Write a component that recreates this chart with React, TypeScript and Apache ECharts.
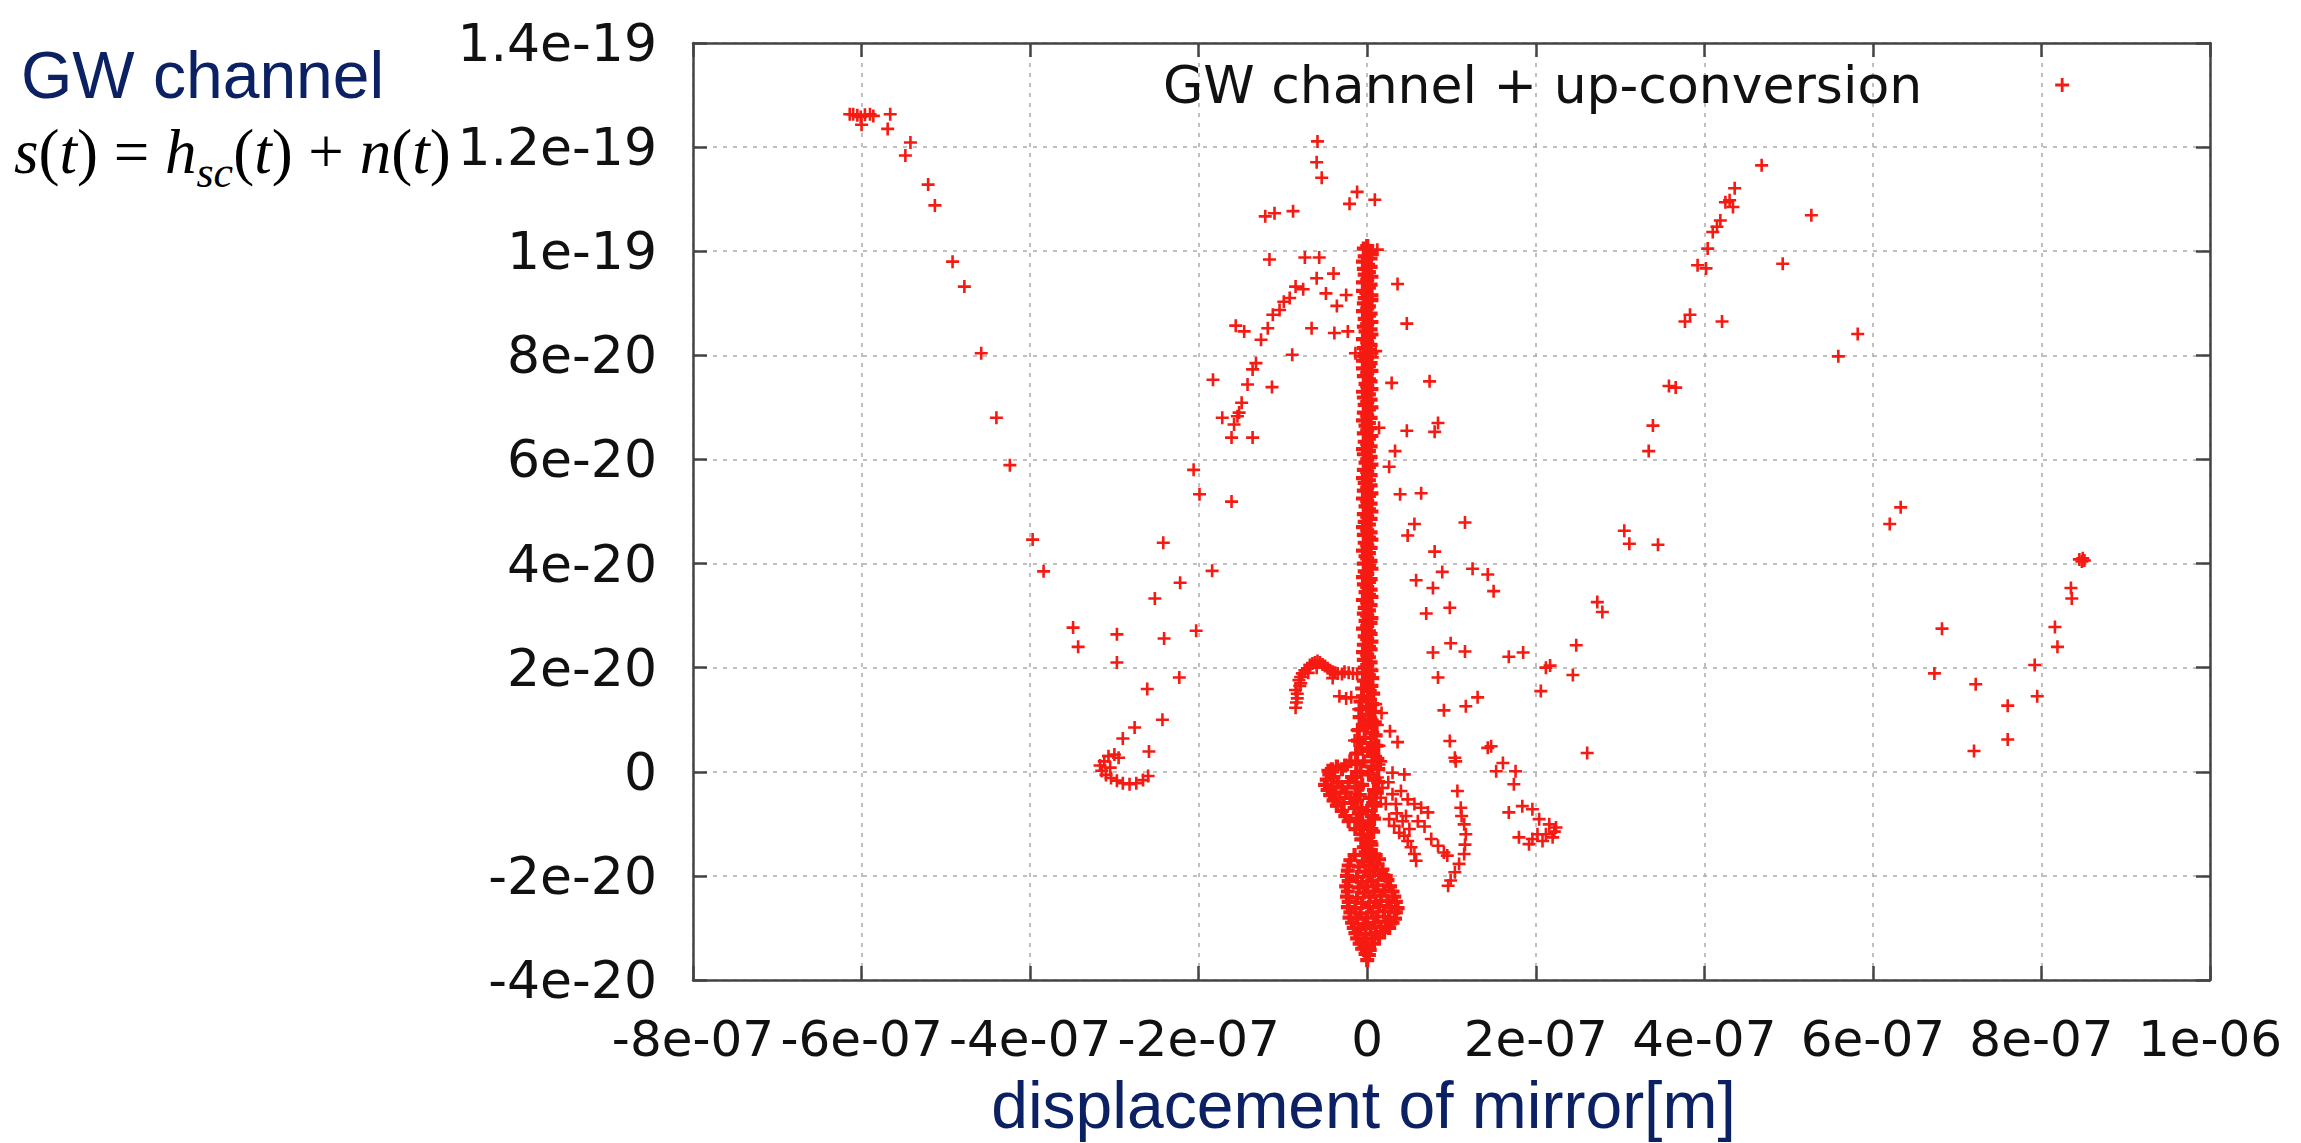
import React, { useEffect, useRef } from 'react';
import * as echarts from 'echarts';

// Values are stored in display units: x in 1e-7 m, y in 1e-20 (signal amplitude).
const X_MIN = -8;
const X_MAX = 10;
const X_STEP = 2;
const Y_MIN = -4;
const Y_MAX = 14;
const Y_STEP = 2;

const xTickLabels = ['-8e-07', '-6e-07', '-4e-07', '-2e-07', '0', '2e-07', '4e-07', '6e-07', '8e-07', '1e-06'];
const yTickLabels = ['-4e-20', '-2e-20', '0', '2e-20', '4e-20', '6e-20', '8e-20', '1e-19', '1.2e-19', '1.4e-19'];

const seriesName = 'GW channel + up-conversion';
const titleText = 'GW channel';
const xAxisTitle = 'displacement of mirror[m]';

type P = [number, number];

const upperLeftArm: P[] = [
  [-6.14, 12.63], [-6.10, 12.63], [-6.05, 12.61], [-6.01, 12.58], [-5.96, 12.62], [-5.90, 12.63], [-5.86, 12.60],
  [-5.66, 12.63], [-6.00, 12.43], [-5.69, 12.35], [-5.42, 12.09], [-5.48, 11.84], [-5.21, 11.28], [-5.13, 10.88],
  [-4.92, 9.80], [-4.78, 9.32], [-4.58, 8.04], [-4.40, 6.80], [-4.24, 5.89], [-3.97, 4.46], [-3.84, 3.85],
];

const leftMid: P[] = [
  [-3.49, 2.77], [-3.43, 2.40], [-2.97, 2.64], [-2.97, 2.10], [-2.42, 4.40], [-2.52, 3.33], [-2.22, 3.63],
  [-2.41, 2.56], [-2.03, 2.71], [-2.23, 1.81], [-2.61, 1.59], [-2.43, 1.00], [-2.76, 0.85], [-2.90, 0.64],
  [-2.59, 0.39], [-2.06, 5.80], [-1.99, 5.33], [-1.61, 5.19], [-1.84, 3.86],
];

const leftLoop: P[] = [
  [-3.00, 0.33], [-3.07, 0.30], [-3.12, 0.20], [-3.17, 0.12], [-3.15, 0.02], [-3.10, -0.06], [-3.04, -0.12],
  [-2.97, -0.17], [-2.90, -0.22], [-2.82, -0.24], [-2.74, -0.22], [-2.66, -0.16], [-2.60, -0.08], [-3.05, 0.08],
  [-2.95, 0.27],
];

const upperCenter: P[] = [
  [-1.72, 6.80], [-1.61, 6.42], [-1.36, 6.42], [-1.49, 7.09], [-1.54, 6.83], [-1.58, 6.67], [-1.42, 7.44],
  [-1.13, 7.39], [-1.83, 7.53], [-1.52, 6.90], [-1.36, 7.73], [-1.32, 7.85], [-1.56, 8.57], [-1.46, 8.46],
  [-1.26, 8.30], [-1.18, 8.52], [-1.12, 8.78], [-1.04, 8.87], [-0.99, 9.03], [-0.92, 9.10], [-0.85, 9.32],
  [-0.76, 9.27], [-0.60, 9.48], [-0.49, 9.19], [-0.40, 9.57], [-0.36, 8.95], [-0.25, 9.16], [-1.16, 9.84],
  [-0.74, 9.88], [-0.57, 9.88], [-1.21, 10.67], [-1.10, 10.73], [-0.88, 10.77], [-0.59, 12.11], [-0.60, 11.71],
  [-0.54, 11.41], [-0.12, 11.14], [-0.21, 10.91], [0.09, 10.99], [-0.66, 8.52], [-0.39, 8.43], [-0.23, 8.46],
  [-0.89, 8.01], [0.12, 10.03], [0.36, 9.37], [0.47, 8.61], [-0.14, 8.04], [0.10, 8.08], [-0.08, 7.98], [0.06, 7.96],
];

const rightOfColumn: P[] = [
  [0.29, 7.47], [0.74, 7.50], [0.14, 6.61], [0.47, 6.55], [0.84, 6.70], [0.80, 6.53], [0.33, 6.16], [0.26, 5.86],
  [0.39, 5.33], [0.64, 5.35], [0.56, 4.76], [0.48, 4.54], [1.16, 4.79], [0.80, 4.23], [0.89, 3.84], [0.58, 3.68],
  [0.78, 3.53], [1.25, 3.90], [1.43, 3.79], [1.50, 3.47], [0.98, 3.15], [0.70, 3.04], [0.99, 2.47], [0.78, 2.29],
  [1.16, 2.31], [1.68, 2.21], [1.85, 2.29], [2.48, 2.43], [2.12, 2.00], [2.17, 2.04], [2.44, 1.86], [2.06, 1.55],
  [0.84, 1.81], [0.91, 1.18], [1.17, 1.26], [1.31, 1.43], [0.17, 1.13], [0.27, 0.78], [0.36, 0.57], [0.98, 0.59],
  [1.43, 0.46], [1.47, 0.49], [2.61, 0.36], [2.73, 3.26], [2.79, 3.07], [1.04, 0.27],
];

const rightMid: P[] = [
  [3.39, 6.65], [3.34, 6.16], [3.58, 7.41], [3.66, 7.38], [3.05, 4.63], [3.11, 4.38], [3.45, 4.36],
];

const upperRightStreak: P[] = [
  [4.68, 11.65], [4.36, 11.21], [4.30, 10.98], [4.25, 10.94], [4.34, 10.85], [4.19, 10.59], [4.15, 10.47],
  [4.10, 10.37], [4.04, 10.05], [3.92, 9.73], [4.02, 9.67], [4.93, 9.76], [5.27, 10.69], [3.83, 8.78],
  [3.77, 8.65], [4.21, 8.65], [5.82, 8.41], [5.59, 7.98],
];

const farRight: P[] = [
  [6.20, 4.76], [6.33, 5.08], [6.82, 2.75], [6.73, 1.89], [7.22, 1.68], [7.60, 1.27], [7.60, 0.62], [7.20, 0.40],
  [7.92, 2.05], [7.95, 1.45], [8.16, 2.78], [8.19, 2.40], [8.35, 3.53], [8.36, 3.33], [8.48, 4.04], [8.45, 4.08],
  [8.51, 4.06], [8.49, 4.10],
];

const hump: P[] = [
  [-0.85, 1.23], [-0.83, 1.41], [-0.85, 1.57], [-0.81, 1.76], [-0.77, 1.89], [-0.71, 1.99], [-0.65, 2.08],
  [-0.59, 2.13], [-0.53, 2.06], [-0.47, 1.99], [-0.41, 1.92], [-0.35, 1.89], [-0.27, 1.92], [-0.17, 1.89],
  [-0.33, 1.45], [-0.25, 1.41], [-0.41, 1.80], [-0.79, 1.70], [-0.84, 1.33], [-0.83, 1.50], [-0.79, 1.82],
  [-0.74, 1.95], [-0.68, 2.05], [-0.62, 2.10], [-0.56, 2.10], [-0.50, 2.03], [-0.44, 1.95], [-0.38, 1.90],
  [-0.30, 1.88], [-0.22, 1.90], [-0.70, 1.90], [-0.60, 2.00], [-0.80, 1.65], [-0.19, 1.43], [-0.12, 1.88],
];

const centralColumn: P[] = [
  [0.00, 10.10], [-0.04, 10.05], [0.03, 10.01], [0.05, 9.95], [-0.03, 9.90], [0.04, 9.86], [-0.05, 9.80], [0.01, 9.74], [0.04, 9.70], [-0.04, 9.66],
  [0.02, 9.60], [-0.03, 9.55], [0.05, 9.51], [0.00, 9.45], [-0.05, 9.40], [0.04, 9.36], [0.02, 9.30], [-0.05, 9.24], [-0.01, 9.20], [0.05, 9.15],
  [-0.03, 9.10], [0.05, 9.06], [-0.04, 9.00], [0.02, 8.94], [0.00, 8.90], [-0.05, 8.85], [0.04, 8.80], [0.02, 8.76], [-0.03, 8.70], [0.05, 8.64],
  [0.00, 8.60], [-0.04, 8.55], [0.04, 8.50], [-0.02, 8.46], [0.05, 8.40], [0.02, 8.35], [-0.05, 8.31], [0.00, 8.25], [0.04, 8.20], [-0.04, 8.14],
  [0.02, 8.10], [0.05, 8.05], [-0.03, 8.00], [0.00, 7.96], [-0.05, 7.90], [0.04, 7.85], [0.02, 7.79], [-0.05, 7.75], [0.05, 7.70], [0.00, 7.66],
  [-0.04, 7.60], [0.02, 7.54], [0.04, 7.50], [-0.02, 7.45], [0.00, 7.41], [0.05, 7.35], [-0.05, 7.30], [0.02, 7.25], [-0.04, 7.19], [0.04, 7.15],
  [0.00, 7.10], [-0.03, 7.05], [0.05, 7.00], [0.02, 6.96], [-0.04, 6.90], [0.00, 6.84], [0.04, 6.80], [-0.05, 6.75], [0.02, 6.70], [-0.02, 6.65],
  [0.04, 6.60], [0.00, 6.56], [-0.04, 6.50], [0.05, 6.45], [0.02, 6.40], [-0.03, 6.34], [0.00, 6.30], [0.04, 6.25], [-0.05, 6.20], [0.02, 6.16],
  [-0.04, 6.10], [0.04, 6.05], [0.00, 6.00], [-0.02, 5.94], [0.05, 5.90], [0.02, 5.85], [-0.04, 5.80], [0.00, 5.76], [0.04, 5.70], [-0.05, 5.64],
  [0.02, 5.60], [-0.03, 5.55], [0.04, 5.50], [0.00, 5.46], [-0.04, 5.40], [0.05, 5.35], [0.02, 5.30], [-0.05, 5.25], [0.00, 5.20], [0.04, 5.15],
  [-0.02, 5.10], [0.02, 5.04], [0.05, 5.00], [-0.04, 4.95], [0.00, 4.90], [0.04, 4.86], [-0.03, 4.80], [0.02, 4.75], [-0.05, 4.70], [0.00, 4.64],
  [0.04, 4.60], [-0.04, 4.55], [0.02, 4.50], [0.05, 4.46], [-0.03, 4.40], [0.00, 4.35], [0.04, 4.30], [-0.05, 4.25], [0.02, 4.20], [-0.02, 4.14],
  [0.00, 4.10], [0.04, 4.05], [-0.04, 4.00], [0.02, 3.96], [0.05, 3.90], [-0.03, 3.85], [0.00, 3.80], [-0.05, 3.74], [0.04, 3.70], [0.02, 3.65],
  [-0.04, 3.60], [0.00, 3.55], [0.04, 3.50], [-0.02, 3.45], [0.02, 3.40], [0.05, 3.36], [-0.05, 3.30], [0.00, 3.25], [0.04, 3.20], [-0.03, 3.15],
  [0.02, 3.10], [-0.04, 3.04], [0.00, 3.00], [0.05, 2.95], [-0.02, 2.90], [0.04, 2.86], [0.00, 2.80], [-0.05, 2.75], [0.02, 2.70], [0.04, 2.65],
  [-0.03, 2.60], [0.00, 2.55], [0.05, 2.50], [-0.04, 2.44], [0.02, 2.40], [0.04, 2.35], [-0.05, 2.30], [0.00, 2.25], [0.02, 2.20], [-0.04, 2.15],
  [0.04, 2.10], [0.00, 2.05], [-0.03, 2.00], [0.05, 1.95], [-0.05, 1.90], [0.02, 1.85], [0.06, 1.80], [-0.04, 1.75], [0.00, 1.70], [0.05, 1.65],
  [-0.06, 1.60], [0.03, 1.55], [0.07, 1.50], [-0.05, 1.45], [0.01, 1.40], [-0.08, 1.35], [0.06, 1.30], [0.00, 1.25], [-0.07, 1.20], [0.08, 1.15],
  [0.02, 1.10], [-0.09, 1.05], [0.04, 1.00], [0.09, 0.95], [-0.05, 0.90], [0.00, 0.85], [-0.10, 0.80], [0.06, 0.75], [0.10, 0.70], [-0.03, 0.65],
  [-0.11, 0.60], [0.05, 0.55], [0.11, 0.50], [-0.07, 0.45], [0.01, 0.40], [-0.12, 0.35], [0.07, 0.30], [0.12, 0.25], [-0.04, 0.20], [-0.13, 0.15],
  [0.06, 0.10], [0.13, 0.05], [-0.08, 0.00], [0.02, -0.05], [-0.13, -0.10], [0.09, -0.15], [0.13, -0.20], [-0.06, -0.25], [-0.11, -0.30], [0.08, -0.35],
  [0.11, -0.40], [-0.09, -0.45], [0.03, -0.50], [-0.12, -0.55], [0.07, -0.60], [0.10, -0.65], [-0.07, -0.70], [0.00, -0.75], [-0.10, -0.80], [0.06, -0.85],
  [0.08, -0.90], [-0.06, -0.95], [0.02, -1.00], [-0.08, -1.05], [0.05, -1.10], [0.07, -1.15], [-0.05, -1.20], [0.01, -1.25], [-0.07, -1.30], [0.04, -1.35],
  [0.05, -1.40], [-0.04, -1.45], [0.01, -1.50],
];

const nearColumn: P[] = [
  [0.14, 0.14], [0.12, -0.11], [0.16, -0.50], [0.10, 1.30], [-0.10, 1.20], [0.12, 0.90], [-0.12, 0.80],
  [0.14, 0.50], [-0.15, 0.60], [0.08, 0.35], [-0.14, 0.35], [0.16, 0.20],
];

const leftLobe: P[] = [
  [-0.45, -0.05], [-0.48, -0.15], [-0.50, -0.25], [-0.47, -0.35], [-0.44, -0.45], [-0.40, -0.55], [-0.36, -0.65],
  [-0.30, -0.75], [-0.26, -0.85], [-0.22, -0.95], [-0.42, 0.05], [-0.36, 0.10], [-0.30, 0.05], [-0.40, -0.10],
  [-0.35, -0.20], [-0.30, -0.30], [-0.25, -0.40], [-0.20, -0.50], [-0.18, -0.60], [-0.15, -0.70], [-0.38, -0.40],
  [-0.33, -0.50], [-0.28, -0.60], [-0.22, -0.20], [-0.18, -0.10], [-0.14, -0.30], [-0.12, -0.90], [-0.14, -1.10],
  [-0.46, 0.02], [-0.42, -0.28], [-0.26, 0.12], [-0.20, 0.20],
];

const rightStreaks: P[] = [
  [0.18, -0.31], [0.22, -0.62], [0.30, -0.43], [0.26, -0.91], [0.32, -1.04], [0.38, -1.17], [0.44, -1.23],
  [0.48, -1.33], [0.52, -1.45], [0.56, -1.58], [0.58, -1.71], [0.30, -0.02], [0.44, -0.05], [0.40, -0.37],
  [0.48, -0.53], [0.56, -0.62], [0.64, -0.69], [0.72, -0.78], [0.76, -1.29], [0.84, -1.42], [0.91, -1.55],
  [0.95, -1.61], [0.35, -0.80], [0.42, -0.95], [0.50, -1.10], [0.25, -0.20], [0.34, -0.62], [0.46, -0.85],
  [0.60, -0.95], [0.68, -1.05],
];

const verticalTrail: P[] = [
  [1.05, 0.20], [1.07, -0.37], [1.11, -0.69], [1.15, -1.01], [1.17, -1.20], [1.15, -1.58], [1.09, -1.77],
  [1.04, -1.93], [0.99, -2.09], [0.96, -2.19], [1.12, -0.85], [1.16, -1.40],
];

const rightCluster: P[] = [
  [1.53, 0.01], [1.61, 0.17], [1.76, 0.01], [1.74, -0.24], [1.68, -0.78], [1.84, -0.66], [1.96, -0.72],
  [2.04, -0.91], [2.16, -1.01], [2.24, -1.07], [2.20, -1.26], [2.08, -1.33], [1.96, -1.29], [1.80, -1.26],
  [2.12, -1.20], [1.92, -1.39], [2.22, -1.15], [2.02, -1.20],
];

const lowerBlob: P[] = [
  [-0.02, -1.55], [0.04, -1.52],
  [-0.15, -1.60], [0.02, -1.62], [0.10, -1.60],
  [-0.20, -1.70], [-0.05, -1.72], [0.06, -1.70], [0.14, -1.68],
  [-0.22, -1.80], [-0.10, -1.82], [0.03, -1.80], [0.12, -1.78],
  [-0.23, -1.90], [-0.02, -1.92], [0.08, -1.90], [0.18, -1.88],
  [-0.24, -2.00], [-0.12, -2.02], [0.02, -2.00], [0.14, -1.98], [0.22, -2.00],
  [-0.22, -2.10], [-0.06, -2.12], [0.06, -2.10], [0.24, -2.08],
  [-0.25, -2.20], [-0.10, -2.22], [0.00, -2.20], [0.12, -2.18], [0.27, -2.20],
  [-0.23, -2.30], [-0.04, -2.32], [0.08, -2.30], [0.20, -2.28], [0.30, -2.30],
  [-0.24, -2.40], [-0.12, -2.42], [0.03, -2.40], [0.16, -2.38], [0.32, -2.40],
  [-0.22, -2.50], [-0.06, -2.52], [0.10, -2.50], [0.24, -2.48], [0.34, -2.50],
  [-0.23, -2.60], [-0.14, -2.62], [0.02, -2.60], [0.14, -2.58], [0.28, -2.60], [0.36, -2.62],
  [-0.20, -2.70], [-0.08, -2.72], [0.06, -2.70], [0.20, -2.68], [0.34, -2.70],
  [-0.21, -2.80], [-0.12, -2.82], [0.00, -2.80], [0.12, -2.78], [0.26, -2.80], [0.33, -2.82],
  [-0.18, -2.90], [-0.04, -2.92], [0.08, -2.90], [0.22, -2.88], [0.30, -2.90],
  [-0.16, -3.00], [-0.08, -3.02], [0.04, -3.00], [0.16, -2.98], [0.26, -3.00],
  [-0.14, -3.10], [-0.02, -3.12], [0.10, -3.10], [0.20, -3.08],
  [-0.12, -3.20], [-0.04, -3.22], [0.06, -3.20], [0.14, -3.18],
  [-0.09, -3.30], [0.00, -3.32], [0.08, -3.30],
  [-0.06, -3.40], [0.03, -3.42],
  [-0.02, -3.50], [0.02, -3.52],
  [0.00, -3.62],
];

const PLUS = 'path://M4,0H6V4H10V6H6V10H4V6H0V4H4Z';
const PLUS_BOLD = 'path://M3.5,0H6.5V3.5H10V6.5H6.5V10H3.5V6.5H0V3.5H3.5Z';
const RED = '#f51a12';
const NAVY = '#0c2163';
const AXIS_COLOR = '#444444';
const GRID_COLOR = '#ababab';

const scatteredPoints: P[] = [
  ...upperLeftArm, ...leftMid, ...leftLoop, ...upperCenter, ...rightOfColumn, ...rightMid,
  ...upperRightStreak, ...farRight, ...hump, ...nearColumn, ...rightStreaks, ...verticalTrail, ...rightCluster,
];
const densePoints: P[] = [...centralColumn, ...leftLobe, ...lowerBlob];

const xLabel = (v: number) => xTickLabels[Math.round((v - X_MIN) / X_STEP)] ?? '';
const yLabel = (v: number) => yTickLabels[Math.round((v - Y_MIN) / Y_STEP)] ?? '';

const tickFont = { fontFamily: 'DejaVu Sans', fontSize: 52, color: '#111111' };

export default function App() {
  const ref = useRef<HTMLDivElement>(null);

  useEffect(() => {
    if (!ref.current) return;
    const chart = echarts.init(ref.current, null, { renderer: 'svg' });
    const axisLine = { show: true, onZero: false, lineStyle: { color: AXIS_COLOR, width: 2.5 } };
    const axisTick = { show: true, inside: true, length: 14, lineStyle: { color: AXIS_COLOR, width: 2.5 } };
    const splitLine = { show: true, lineStyle: { color: GRID_COLOR, width: 1.5, type: [4, 6] } };

    chart.setOption({
      animation: false,
      backgroundColor: '#ffffff',
      grid: { left: 693, right: 91, top: 43, bottom: 159, containLabel: false },
      legend: {
        show: true,
        left: 1163,
        top: 59,
        padding: 0,
        align: 'right',
        itemWidth: 14,
        itemHeight: 14,
        selectedMode: false,
        data: [{ name: seriesName, icon: PLUS }],
        textStyle: { ...tickFont, padding: [0, 128, 0, 0] },
      },
      xAxis: [
        {
          type: 'value',
          position: 'bottom',
          min: X_MIN,
          max: X_MAX,
          interval: X_STEP,
          axisLine,
          axisTick,
          splitLine,
          axisLabel: {
            ...tickFont,
            fontSize: 50,
            margin: 34,
            formatter: xLabel,
            showMinLabel: true,
            showMaxLabel: true,
            hideOverlap: false,
          },
          name: xAxisTitle,
          nameLocation: 'middle',
          nameGap: 92,
          nameTextStyle: { fontFamily: 'Liberation Sans', fontSize: 66, color: NAVY, padding: [0, 176, 0, 0] },
        },
        {
          type: 'value',
          position: 'top',
          min: X_MIN,
          max: X_MAX,
          interval: X_STEP,
          axisLine,
          axisTick,
          splitLine: { show: false },
          axisLabel: { show: false },
        },
      ],
      yAxis: [
        {
          type: 'value',
          position: 'left',
          min: Y_MIN,
          max: Y_MAX,
          interval: Y_STEP,
          axisLine,
          axisTick,
          splitLine,
          axisLabel: { ...tickFont, margin: 36, formatter: yLabel, showMinLabel: true, showMaxLabel: true },
        },
        {
          type: 'value',
          position: 'right',
          min: Y_MIN,
          max: Y_MAX,
          interval: Y_STEP,
          axisLine,
          axisTick,
          splitLine: { show: false },
          axisLabel: { show: false },
        },
      ],
      graphic: [
        {
          type: 'text',
          x: 21,
          y: 75,
          style: {
            text: titleText,
            fontFamily: 'Liberation Sans',
            fontSize: 66,
            fill: NAVY,
            verticalAlign: 'middle',
            align: 'left',
          },
        },
        {
          type: 'text',
          x: 14,
          y: 152,
          style: {
            text: '{v|s}{p|(}{v|t}{p|) = }{v|h}{b|sc}{p|(}{v|t}{p|) + }{v|n}{p|(}{v|t}{p|)}',
            verticalAlign: 'middle',
            align: 'left',
            fill: '#000000',
            rich: {
              v: { fontFamily: 'Liberation Serif', fontStyle: 'italic', fontSize: 63, lineHeight: 84, fill: '#000000' },
              p: { fontFamily: 'Liberation Serif', fontSize: 63, lineHeight: 84, fill: '#000000' },
              b: { fontFamily: 'Liberation Serif', fontStyle: 'italic', fontSize: 44, lineHeight: 44, verticalAlign: 'bottom', fill: '#000000' },
            },
          },
        },
      ],
      series: [
        {
          type: 'scatter',
          name: seriesName,
          xAxisIndex: 0,
          yAxisIndex: 0,
          symbol: PLUS,
          symbolSize: 13,
          itemStyle: { color: RED, opacity: 1 },
          silent: true,
          data: scatteredPoints,
        },
        {
          type: 'scatter',
          name: seriesName,
          xAxisIndex: 0,
          yAxisIndex: 0,
          symbol: PLUS_BOLD,
          symbolSize: 14,
          itemStyle: { color: RED, opacity: 1 },
          silent: true,
          data: densePoints,
        },
      ],
    });

    return () => chart.dispose();
  }, []);

  return (
    <div
      ref={ref}
      style={{ position: 'fixed', left: 0, top: 0, width: 2301, height: 1143, background: '#ffffff' }}
    />
  );
}
